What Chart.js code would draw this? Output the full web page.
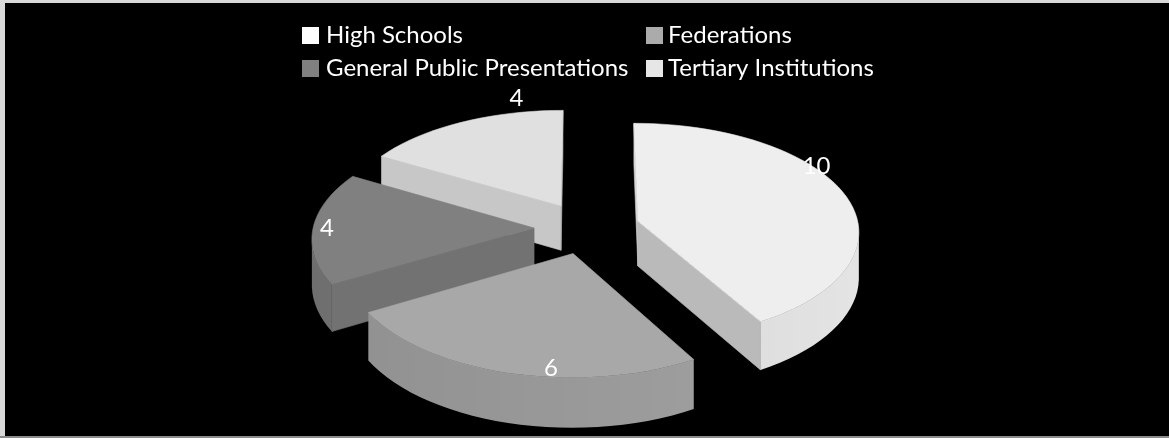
<!DOCTYPE html>
<html>
<head>
<meta charset="utf-8">
<title>3D pie</title>
<script src="https://cdn.jsdelivr.net/npm/chart.js@4"></script>
<style>
    html, body { margin: 0; padding: 0; background: #000; }
    canvas { display: block; }
</style>
</head>
<body>
<canvas id="pieChart" width="1169" height="438"></canvas>
<script>
// Data
var categories = ['High Schools', 'Federations', 'General Public Presentations', 'Tertiary Institutions'];
var values = [10, 6, 4, 4];

var sliceColors = ['#eeeeee', '#a8a8a8', '#808080', '#e0e0e0'];
var legendColors = ['#fdfdfd', '#ababab', '#808080', '#e6e6e6'];

// Label nudges in px, from the middle of each slice's outer edge
var labelNudge = [[-28, -28], [43, -5], [14, 0], [55, -24]];

// Projection of the flat pie into the tilted view
var widthScale = 221, heightScale = 108, pieDepth = 45, perspectiveX = 0.085, perspectiveY = 0.09;

function project(el, x, y, z) {
    var sx = 1 / (1 - perspectiveX * y);
    var sy = 1 / (1 - perspectiveY * y);
    return {
        x: el.x + widthScale * x * sx,
        y: el.y + heightScale * y * sy + pieDepth * z * sx
    };
}

// Flat coordinates where the radius is 1, moved out by the slice's library offset
function flatPoint(el, angle, r) {
    var mid = (el.startAngle + el.endAngle) / 2;
    var move = (el.options.offset / 4) / el.outerRadius;
    return {
        x: Math.cos(mid) * move + Math.cos(angle) * r,
        y: Math.sin(mid) * move + Math.sin(angle) * r
    };
}

function shade(hex, f) {
    var n = parseInt(hex.slice(1), 16);
    var r = Math.round(((n >> 16) & 255) * f);
    var g = Math.round(((n >> 8) & 255) * f);
    var b = Math.round((n & 255) * f);
    return 'rgb(' + r + ',' + g + ',' + b + ')';
}

function fillPoly(ctx, pts, color) {
    ctx.beginPath();
    pts.forEach(function(p, i) {
        if (i === 0) ctx.moveTo(p.x, p.y); else ctx.lineTo(p.x, p.y);
    });
    ctx.closePath();
    ctx.fillStyle = color;
    ctx.strokeStyle = color;
    ctx.lineWidth = 0.6;
    ctx.fill();
    ctx.stroke();
}

// Signed area on screen, tells which way a quad is turned
function facing(pts) {
    var a = 0;
    pts.forEach(function(p, i) {
        var q = pts[(i + 1) % pts.length];
        a += p.x * q.y - q.x * p.y;
    });
    return a;
}

function drawWall(ctx, el, angle, color, side) {
    var apex = flatPoint(el, angle, 0), tip = flatPoint(el, angle, 1);
    var pts = [project(el, apex.x, apex.y, 0), project(el, tip.x, tip.y, 0),
               project(el, tip.x, tip.y, 1), project(el, apex.x, apex.y, 1)];
    if (facing(pts) * side >= 0) return;
    fillPoly(ctx, pts, shade(color, side > 0 ? 0.89 : 0.78));
}

function drawRim(ctx, el, color, steps) {
    var upper = [], lower = [], angles = [], i;
    for (i = 0; i < steps; i++) {
        var a0 = el.startAngle + (el.endAngle - el.startAngle) * i / steps;
        var a1 = el.startAngle + (el.endAngle - el.startAngle) * (i + 1) / steps;
        var p0 = flatPoint(el, a0, 1), p1 = flatPoint(el, a1, 1);
        var quad = [project(el, p0.x, p0.y, 0), project(el, p1.x, p1.y, 0),
                    project(el, p1.x, p1.y, 1), project(el, p0.x, p0.y, 1)];
        if (facing(quad) < 0) {
            if (upper.length === 0) {
                upper.push(quad[0]);
                lower.push(quad[3]);
                angles.push(a0);
            }
            upper.push(quad[1]);
            lower.push(quad[2]);
            angles.push(a1);
        }
    }
    if (upper.length < 2) return;

    // shade runs along the rim, lighter toward the right
    var x0 = upper[0].x, x1 = upper[upper.length - 1].x;
    var grad = ctx.createLinearGradient(x0, 0, x1, 0);
    upper.forEach(function(p, k) {
        grad.addColorStop((p.x - x0) / (x1 - x0), shade(color, 0.91 + 0.05 * Math.cos(angles[k])));
    });
    ctx.beginPath();
    upper.concat(lower.reverse()).forEach(function(p, k) {
        if (k === 0) ctx.moveTo(p.x, p.y); else ctx.lineTo(p.x, p.y);
    });
    ctx.closePath();
    ctx.fillStyle = grad;
    ctx.fill();
}

function drawSlice(ctx, el, color) {
    var steps = Math.ceil((el.endAngle - el.startAngle) / (Math.PI / 60));
    var top = [], i, a;
    var apex = flatPoint(el, el.startAngle, 0);

    drawWall(ctx, el, el.startAngle, color, 1);
    drawWall(ctx, el, el.endAngle, color, -1);
    drawRim(ctx, el, color, steps);

    top.push(project(el, apex.x, apex.y, 0));
    for (i = 0; i <= steps; i++) {
        a = el.startAngle + (el.endAngle - el.startAngle) * i / steps;
        var p = flatPoint(el, a, 1);
        top.push(project(el, p.x, p.y, 0));
    }
    fillPoly(ctx, top, color);
}

var framePlugin = {
    id: 'frame',
    beforeDraw: function(chart) {
        var ctx = chart.ctx;
        ctx.save();
        ctx.fillStyle = '#d9d9d9';
        ctx.fillRect(0, 0, 1169, 438);
        ctx.fillStyle = '#000000';
        ctx.fillRect(5, 3, 1164, 433);
        ctx.fillStyle = '#8c8c8c';
        ctx.fillRect(0, 436, 1169, 2);
        ctx.restore();
    }
};

var pie3dPlugin = {
    id: 'pie3d',
    beforeDatasetDraw: function(chart, args) {
        var ctx = chart.ctx;
        var arcs = args.meta.data.map(function(el, i) { return { el: el, i: i }; });
        // back slices first
        arcs.sort(function(p, q) {
            return Math.sin((p.el.startAngle + p.el.endAngle) / 2) - Math.sin((q.el.startAngle + q.el.endAngle) / 2);
        });
        ctx.save();
        arcs.forEach(function(item) {
            drawSlice(ctx, item.el, sliceColors[item.i]);
        });
        ctx.restore();
        return false;
    },
    afterDatasetsDraw: function(chart) {
        var ctx = chart.ctx;
        var arcs = chart.getDatasetMeta(0).data;
        ctx.save();
        ctx.font = '24px Lato';
        ctx.fillStyle = '#ffffff';
        ctx.textAlign = 'center';
        ctx.textBaseline = 'middle';
        arcs.forEach(function(el, i) {
            var mid = (el.startAngle + el.endAngle) / 2;
            var f = flatPoint(el, mid, 1);
            var p = project(el, f.x, f.y, 0);
            ctx.fillText(String(values[i]), p.x + labelNudge[i][0], p.y + labelNudge[i][1]);
        });

        // legend in two aligned columns
        var columns = [302, 646], rows = [35, 68], gaps = [24, 22];
        ctx.textAlign = 'left';
        categories.forEach(function(name, i) {
            var x = columns[i % 2], y = rows[Math.floor(i / 2)];
            ctx.fillStyle = legendColors[i];
            ctx.fillRect(x, y - 8, 17, 17);
            ctx.fillStyle = '#ffffff';
            ctx.fillText(name, x + gaps[i % 2], y);
        });
        ctx.restore();
    }
};

document.addEventListener('DOMContentLoaded', function() {
    var ctx = document.getElementById('pieChart').getContext('2d');
    new Chart(ctx, {
        type: 'pie',
        data: {
            labels: categories,
            datasets: [{
                data: values,
                backgroundColor: sliceColors,
                borderWidth: 0,
                offset: 136
            }]
        },
        options: {
            responsive: false,
            animation: false,
            layout: { padding: { left: 5, top: 18 } },
            plugins: {
                legend: { display: false },
                tooltip: { enabled: false }
            }
        },
        plugins: [framePlugin, pie3dPlugin]
    });
});
</script>
</body>
</html>
